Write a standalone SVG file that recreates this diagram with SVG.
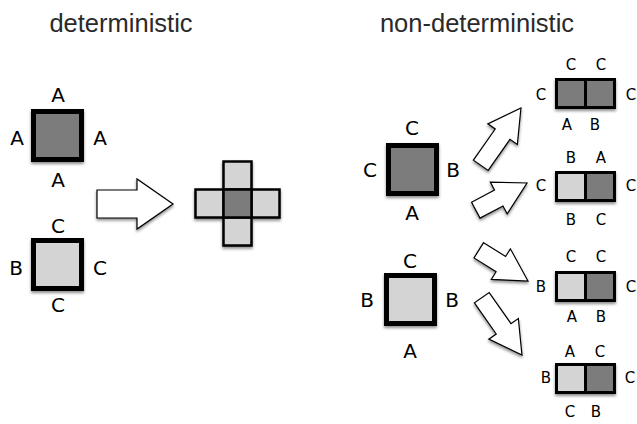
<svg xmlns="http://www.w3.org/2000/svg" xmlns:xlink="http://www.w3.org/1999/xlink" width="637" height="424" viewBox="0 0 637 424">
<defs>
<style>
.title{font-family:"Liberation Sans",Arial,sans-serif;font-size:25.5px;fill:#2a2a2a;text-anchor:middle}
.lbl{font-family:"DejaVu Sans",sans-serif;font-size:20px;fill:#000;text-anchor:middle}
.sl{font-family:"DejaVu Sans",sans-serif;font-size:15px;fill:#000;text-anchor:middle}
.big{stroke:#000;stroke-width:5}
.cell{stroke:#000;stroke-width:2.5}
.pc{stroke:#000;stroke-width:3}
.dk{fill:#7b7b7b}
.lt{fill:#d4d4d4}
.arr{fill:#fff;stroke:#000;stroke-width:1.2;stroke-linejoin:miter}
</style>
<filter id="sh" x="-30%" y="-30%" width="160%" height="160%">
<feDropShadow dx="0" dy="2" stdDeviation="1.8" flood-color="#000" flood-opacity="0.45"/>
</filter>
<path id="bigArrow" d="M0,-14 L40,-14 L40,-25 L76,0 L40,25 L40,14 L0,14 Z"/>
<path id="arrS" d="M0,-9 L26,-9 L26,-18 L58,0 L26,18 L26,9 L0,9 Z"/>
<path id="arrL" d="M0,-9 L38,-9 L38,-18 L70,0 L38,18 L38,9 L0,9 Z"/>
</defs>
<text class="title" x="121" y="32">deterministic</text>
<text class="title" x="477" y="32">non-deterministic</text>

<g id="det-dark">
<rect class="big dk" x="33.5" y="111.5" width="48" height="48" filter="url(#sh)"/>
<text class="lbl" x="58" y="102">A</text>
<text class="lbl" x="17" y="145">A</text>
<text class="lbl" x="100" y="145">A</text>
<text class="lbl" x="58" y="187">A</text>
</g>
<g id="det-light">
<rect class="big lt" x="33.5" y="240.5" width="48" height="48" filter="url(#sh)"/>
<text class="lbl" x="58" y="233">C</text>
<text class="lbl" x="16" y="275">B</text>
<text class="lbl" x="100" y="275">C</text>
<text class="lbl" x="58" y="312">C</text>
</g>
<g id="cross" filter="url(#sh)">
<rect class="cell lt" x="223.5" y="161.5" width="28" height="28"/>
<rect class="cell lt" x="195.5" y="189.5" width="28" height="28"/>
<rect class="cell lt" x="251.5" y="189.5" width="28" height="28"/>
<rect class="cell lt" x="223.5" y="217.5" width="28" height="28"/>
<rect class="cell dk" x="223.5" y="189.5" width="28" height="28"/>
</g>

<g id="nd-dark">
<rect class="big dk" x="388.5" y="145.5" width="48" height="48" filter="url(#sh)"/>
<text class="lbl" x="412" y="135">C</text>
<text class="lbl" x="370" y="177">C</text>
<text class="lbl" x="453" y="177">B</text>
<text class="lbl" x="412" y="220">A</text>
</g>
<g id="nd-light">
<rect class="big lt" x="386.5" y="275.5" width="48" height="48" filter="url(#sh)"/>
<text class="lbl" x="410" y="268">C</text>
<text class="lbl" x="367" y="307">B</text>
<text class="lbl" x="452" y="307">B</text>
<text class="lbl" x="410" y="358">A</text>
</g>

<g id="pair1">
<g class="pc" filter="url(#sh)"><rect class="dk" x="556.5" y="79.5" width="29" height="28"/><rect class="dk" x="585.5" y="79.5" width="29" height="28"/></g>
<text class="sl" x="571" y="70">C</text><text class="sl" x="601" y="70">C</text>
<text class="sl" x="541" y="100">C</text><text class="sl" x="631" y="100">C</text>
<text class="sl" x="567" y="130">A</text><text class="sl" x="595" y="130">B</text>
</g>
<g id="pair2">
<g class="pc" filter="url(#sh)"><rect class="lt" x="556.5" y="172.5" width="29" height="28"/><rect class="dk" x="585.5" y="172.5" width="29" height="28"/></g>
<text class="sl" x="571" y="163">B</text><text class="sl" x="601" y="163">A</text>
<text class="sl" x="541" y="191">C</text><text class="sl" x="631" y="191">C</text>
<text class="sl" x="571" y="225">B</text><text class="sl" x="601" y="225">C</text>
</g>
<g id="pair3">
<g class="pc" filter="url(#sh)"><rect class="lt" x="556.5" y="272.5" width="29" height="28"/><rect class="dk" x="585.5" y="272.5" width="29" height="28"/></g>
<text class="sl" x="571" y="262">C</text><text class="sl" x="601" y="262">C</text>
<text class="sl" x="541" y="292">B</text><text class="sl" x="631" y="292">C</text>
<text class="sl" x="572" y="322">A</text><text class="sl" x="601" y="322">B</text>
</g>
<g id="pair4">
<g class="pc" filter="url(#sh)"><rect class="lt" x="556.5" y="364.5" width="29" height="28"/><rect class="dk" x="585.5" y="364.5" width="29" height="28"/></g>
<text class="sl" x="570" y="357">A</text><text class="sl" x="600" y="357">C</text>
<text class="sl" x="546" y="383">B</text><text class="sl" x="630" y="383">C</text>
<text class="sl" x="570" y="417">C</text><text class="sl" x="596" y="417">B</text>
</g>

<g id="connectors" class="arr" filter="url(#sh)">
<use xlink:href="#bigArrow" transform="translate(97,204)"/>
<use xlink:href="#arrL" transform="translate(480.8,165.3) rotate(-55)"/>
<use xlink:href="#arrS" transform="translate(475.8,210.2) rotate(-28)"/>
<use xlink:href="#arrS" transform="translate(478.8,250.3) rotate(32)"/>
<use xlink:href="#arrL" transform="translate(481.8,297.7) rotate(55)"/>
</g>
</svg>
